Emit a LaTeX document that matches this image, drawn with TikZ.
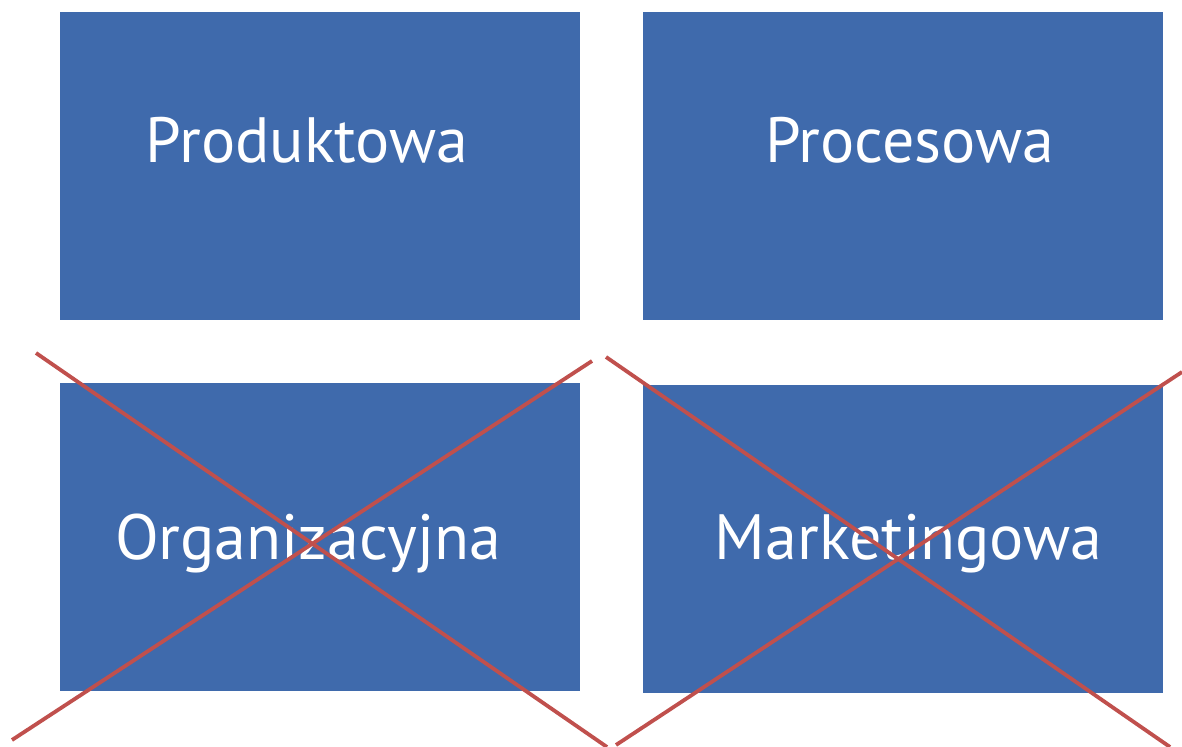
\documentclass[tikz,border=0pt]{standalone}
\usepackage{fontspec}
\setmainfont{PT Sans}
\usetikzlibrary{backgrounds}
\definecolor{boxblue}{RGB}{63,106,172}
\definecolor{crossred}{RGB}{192,80,77}
\newcommand{\boxfont}{\fontsize{32}{38}\selectfont}

\begin{document}
\begin{tikzpicture}[x=0.5pt,y=0.5pt,
        box/.style={fill=boxblue,minimum width=260pt,minimum height=154pt,inner sep=0pt},
        boxtext/.style={text=white,font=\boxfont,anchor=base,inner sep=0pt},
        cross/.style={crossred,line width=1.9pt}]
            \useasboundingbox (0,0) rectangle (1182,747);

            \node[box] (prod) at (320,580.5) {};
            \node[box] (proc) at (902.5,580.5) {};
            \node[box] (org)  at (320,209.5) {};
            \node[box] (mark) at (902.5,208) {};

            \node[boxtext] (prodtext) at ([xshift=-6.5pt,yshift=2pt]prod.center) {Produktowa};
            \node[boxtext] (proctext) at ([xshift=3.5pt,yshift=2pt]proc.center)  {Procesowa};
            \node[boxtext] (orgtext)  at ([xshift=-6pt,yshift=-11pt]org.center)  {Organizacyjna};
            \node[boxtext] (marktext) at ([xshift=3pt,yshift=-10.5pt]mark.center) {Marketingowa};

            % Crosses
            \coordinate (orgNW) at (36,394);
            \coordinate (orgSE) at (607,0);
            \coordinate (orgSW) at (12,7);
            \coordinate (orgNE) at (592,386);
            \coordinate (markNW) at (606,390);
            \coordinate (markSE) at (1170,0);
            \coordinate (markSW) at (616,2);
            \coordinate (markNE) at (1182,375);
            \draw[cross] (orgNW) -- (orgSE);
            \draw[cross] (orgSW) -- (orgNE);
            \draw[cross] (markNW) -- (markSE);
            \draw[cross] (markSW) -- (markNE);
\end{tikzpicture}
\end{document}
